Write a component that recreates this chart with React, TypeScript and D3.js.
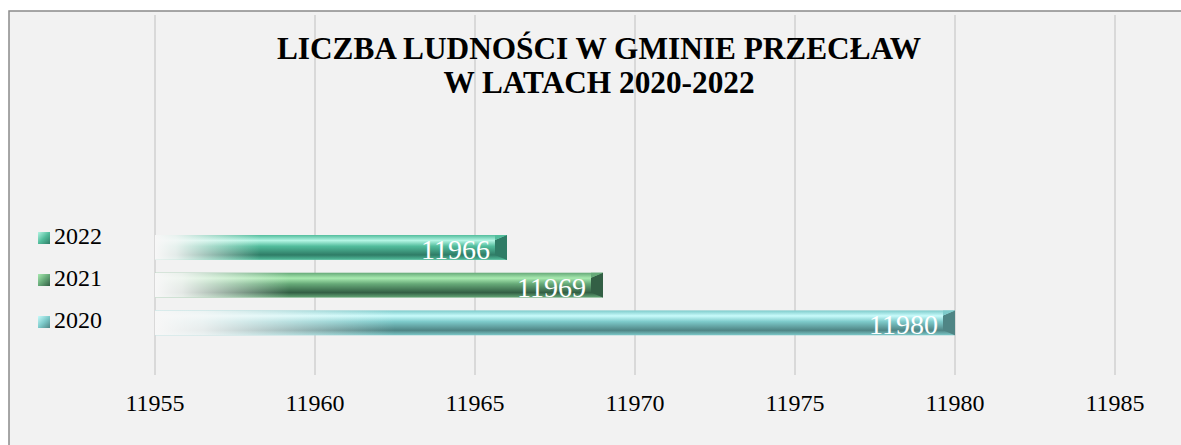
import React from 'react';
import { scaleBand, scaleLinear } from 'd3';

const years = ['2022', '2021', '2020'];
const population = [11966, 11969, 11980];
const xTicks = [11955, 11960, 11965, 11970, 11975, 11980, 11985];
const titleLines = ['LICZBA LUDNOŚCI W GMINIE PRZECŁAW', 'W LATACH 2020-2022'];

// light / mid / dark shade for each series
const palette = {
  '2022': ['#b4f5e4', '#52bd9c', '#2f7c66'],
  '2021': ['#a8eab0', '#66a978', '#335f45'],
  '2020': ['#c8fbfb', '#7dcaca', '#4f8585'],
};

const W = 1181;
const H = 445;
const serif = '"Liberation Serif", "Times New Roman", serif';

export default function App() {
  const x = scaleLinear().domain([11955, 11985]).range([155, 1115]);
  const y = scaleBand().domain(years).range([228.6, 341.7]).paddingInner(0.34).paddingOuter(0.17);
  const bh = y.bandwidth();

  return (
    <svg width={W} height={H} style={{ position: 'absolute', left: 0, top: 0 }}>
      <defs>
        {years.map(k => {
          const [lt, md, dk] = palette[k];
          return (
            <React.Fragment key={k}>
              <linearGradient id={`v${k}`} x1="0" y1="0" x2="0" y2="1">
                <stop offset="0" stopColor={md} />
                <stop offset="0.22" stopColor={lt} />
                <stop offset="0.45" stopColor={md} />
                <stop offset="0.8" stopColor={dk} />
                <stop offset="1" stopColor={md} />
              </linearGradient>
              <linearGradient id={`m${k}`} x1="0" y1="0" x2="1" y2="1">
                <stop offset="0" stopColor={lt} />
                <stop offset="0.5" stopColor={md} />
                <stop offset="1" stopColor={dk} />
              </linearGradient>
            </React.Fragment>
          );
        })}
        <linearGradient id="fade" x1="0" y1="0" x2="1" y2="0">
          <stop offset="0" stopColor="#f7f7f7" stopOpacity="1" />
          <stop offset="0.06" stopColor="#f7f7f7" stopOpacity="0.9" />
          <stop offset="0.3" stopColor="#f7f7f7" stopOpacity="0" />
        </linearGradient>
      </defs>

      <rect x={0} y={0} width={W} height={H} fill="#fff" />
      <rect x={9} y={11} width={W + 20} height={H + 20} fill="#f2f2f2" stroke="#8a8a8a" strokeWidth={1.5} />

      {xTicks.map(t => (
        <g key={t}>
          <line x1={x(t)} x2={x(t)} y1={15} y2={375} stroke="#d0d0d0" strokeWidth={1.5} />
          <text x={x(t)} y={411} textAnchor="middle" fontFamily={serif} fontSize={24} fill="#000">
            {t}
          </text>
        </g>
      ))}

      {titleLines.map((l, i) => (
        <text key={l} x={599} y={59 + i * 34} textAnchor="middle" fontFamily={serif} fontWeight="bold" fontSize={31.3} fill="#000">
          {l}
        </text>
      ))}

      {years.map((k, i) => {
        const v = population[i];
        const x0 = x(11955);
        const x1 = x(v);
        const y0 = y(k);
        const [, md, dk] = palette[k];
        return (
          <g key={k}>
            <rect x={x0} y={y0} width={x1 - x0} height={bh} fill={`url(#v${k})`} />
            <rect x={x0} y={y0} width={x1 - x0} height={bh} fill="url(#fade)" />
            <polygon points={`${x1 - 12},${y0 + 5} ${x1},${y0} ${x1},${y0 + bh} ${x1 - 12},${y0 + bh - 5}`} fill={dk} />
            <polygon points={`${x1 - 12},${y0 + 5} ${x1},${y0} ${x1 - 12},${y0}`} fill={md} />
            <text x={x1 - 17} y={y0 + bh - 1} textAnchor="end" fontFamily={serif} fontSize={28} fill="#fff">
              {v}
            </text>
            <rect x={38} y={y0 - 3 + i * 4.3} width={12} height={12} fill={`url(#m${k})`} />
            <text x={54} y={y0 + 9 + i * 4.3} fontFamily={serif} fontSize={24} fill="#000">
              {k}
            </text>
          </g>
        );
      })}
    </svg>
  );
}
